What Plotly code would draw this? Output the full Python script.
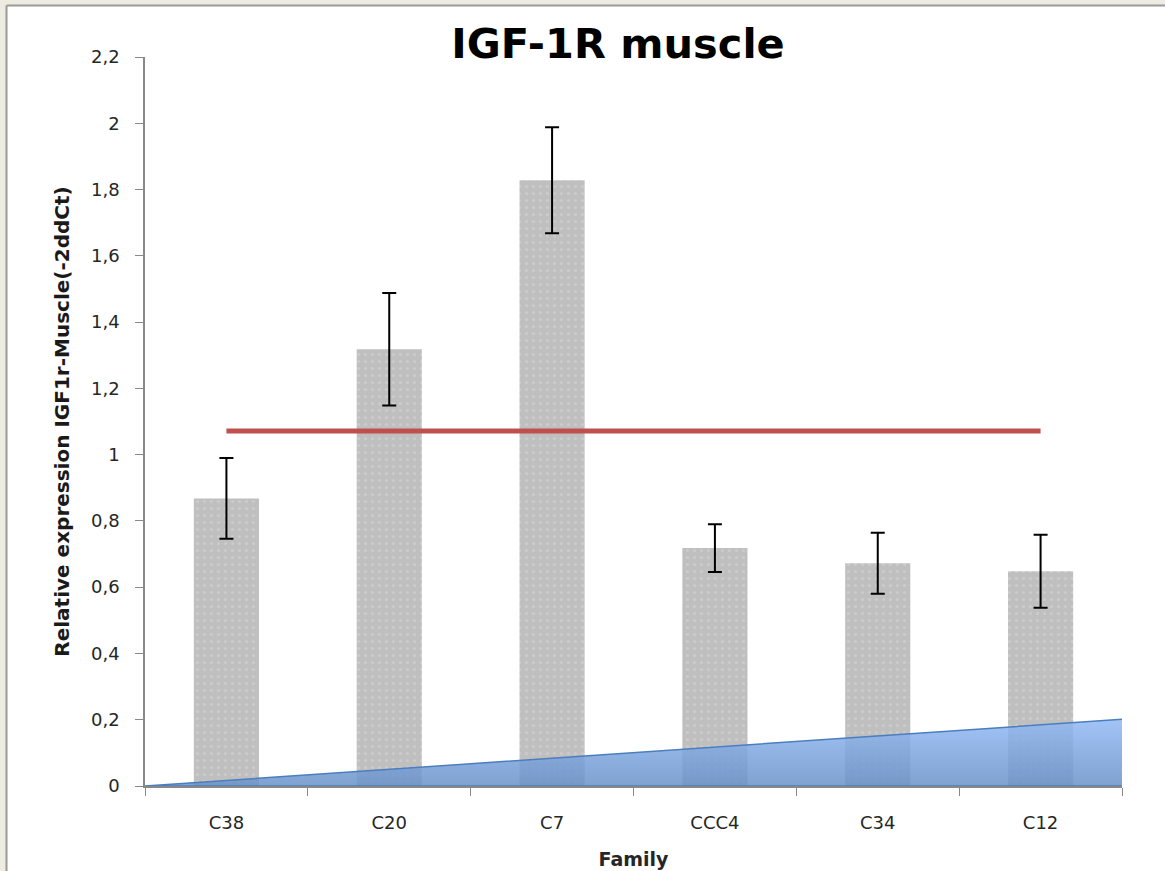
import plotly.graph_objects as go

categories = ["C38", "C20", "C7", "CCC4", "C34", "C12"]
values = [0.868, 1.318, 1.828, 0.718, 0.672, 0.648]
errors = [0.122, 0.17, 0.16, 0.072, 0.092, 0.11]
reference_level = 1.071
wedge_x = [-0.5, 5.52, 5.52, -0.5]
wedge_y = [0.0, 0.202, 0.0, 0.0]

W, H = 1165, 871
L, R, T, B = 145, 43, 57, 85
PW, PH = W - L - R, H - T - B


def px_x(x):
    return (x - L) / PW


def px_y(y):
    return (H - B - y) / PH


fig = go.Figure()

fig.add_trace(go.Bar(
    x=categories, y=values,
    width=0.4,
    marker=dict(color="#BFBFBF", line=dict(width=0),
                pattern=dict(shape=".", fgcolor="#D8D8D8", bgcolor="#BFBFBF", size=7, solidity=0.15)),
    error_y=dict(type="data", array=errors, visible=True, color="black", thickness=2, width=7),
    showlegend=False,
))

fig.add_trace(go.Scatter(
    x=[0, 5], y=[reference_level, reference_level], xaxis="x2",
    mode="lines", line=dict(color="#C0504D", width=5), showlegend=False,
))

fig.add_trace(go.Scatter(
    x=wedge_x, y=wedge_y, xaxis="x2",
    mode="lines", fill="toself",
    fillgradient=dict(type="vertical", colorscale=[[0, "rgba(105,145,200,0.85)"], [1, "rgba(145,185,245,0.85)"]]),
    line=dict(color="#4A7EBF", width=1.5), showlegend=False,
))

tickfont = dict(family="DejaVu Sans", size=18, color="#262626")

fig.update_layout(
    width=W, height=H,
    margin=dict(l=L, r=R, t=T, b=B, pad=0, autoexpand=False),
    paper_bgcolor="white", plot_bgcolor="white",
    separators=", ",
    bargap=0.6,
    title=dict(text="<b>IGF-1R muscle</b>", x=px_x(618), xref="paper", xanchor="center",
               y=1 - 43 / H, yanchor="middle",
               font=dict(family="DejaVu Sans", size=41.5, color="black")),
    xaxis=dict(type="category", range=[-0.5, 5.5], tickson="boundaries", ticks="outside", ticklen=8,
               tickcolor="#888888", showline=True, linecolor="#888888", linewidth=1.5, showgrid=False,
               tickfont=tickfont, ticklabelstandoff=20, automargin=False,
               title=dict(text="<b>Family</b>", font=dict(family="DejaVu Sans", size=19, color="#262626"),
                          standoff=20)),
    xaxis2=dict(overlaying="x", range=[-0.5, 5.5], visible=False),
    yaxis=dict(range=[0, 2.2], dtick=0.2, ticks="outside", ticklen=8, tickcolor="#888888",
               showline=True, linecolor="#888888", linewidth=1.5, showgrid=False, zeroline=False,
               tickfont=tickfont, ticklabelstandoff=12, automargin=False,
               title=dict(text="<b>Relative expression IGF1r-Muscle(-2ddCt)</b>",
                          font=dict(family="DejaVu Sans", size=20, color="#1a1a1a"), standoff=16)),
)

# window frame: beige strips along top and left with a grey inner edge
fig.add_shape(type="rect", xref="paper", yref="paper", x0=px_x(0), x1=px_x(W), y0=px_y(5), y1=px_y(0),
              fillcolor="#EEEBE0", line=dict(width=0), layer="below")
fig.add_shape(type="rect", xref="paper", yref="paper", x0=px_x(0), x1=px_x(6), y0=px_y(H), y1=px_y(0),
              fillcolor="#EEEBE0", line=dict(width=0), layer="below")
fig.add_shape(type="line", xref="paper", yref="paper", x0=px_x(6.5), x1=px_x(W),
              y0=px_y(5.5), y1=px_y(5.5), line=dict(color="#9A9A9A", width=2), layer="below")
fig.add_shape(type="line", xref="paper", yref="paper", x0=px_x(6.5), x1=px_x(6.5),
              y0=px_y(H), y1=px_y(5.5), line=dict(color="#9A9A9A", width=2), layer="below")

fig.write_html("out.html", config={"displayModeBar": False},
               post_script="document.body.style.margin='0';")
